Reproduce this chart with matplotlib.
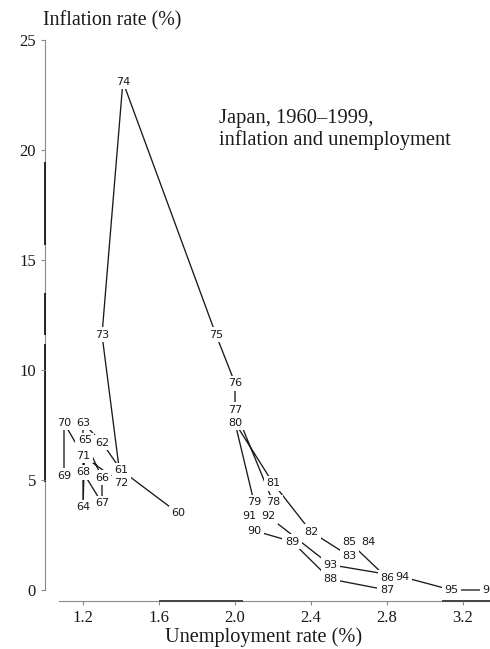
import matplotlib
matplotlib.use("Agg")
import matplotlib.pyplot as plt

# Japan, 1960-1999: unemployment rate (%) and inflation rate (%) by year
years = ["60", "61", "62", "63", "64", "65", "66", "67", "68", "69",
         "70", "71", "72", "73", "74", "75", "76", "77", "78", "79",
         "80", "81", "82", "83", "84", "85", "86", "87", "88", "89",
         "90", "91", "92", "93", "94", "95", "96"]
unemployment = [1.70, 1.40, 1.30, 1.20, 1.20, 1.21, 1.30, 1.30, 1.20, 1.10,
                1.10, 1.20, 1.40, 1.30, 1.41, 1.90, 2.00, 2.00, 2.20, 2.10,
                2.00, 2.20, 2.40, 2.60, 2.70, 2.60, 2.80, 2.80, 2.50, 2.30,
                2.10, 2.075, 2.175, 2.50, 2.88, 3.14, 3.34]
inflation = [3.5, 5.45, 6.7, 7.6, 3.77, 6.8, 5.1, 3.95, 5.35, 5.2,
             7.6, 6.1, 4.86, 11.6, 23.1, 11.6, 9.4, 8.2, 4.0, 4.0,
             7.6, 4.86, 2.65, 1.55, 2.2, 2.2, 0.55, 0.0, 0.5, 2.2,
             2.7, 3.35, 3.35, 1.15, 0.6, 0.0, 0.0]

x_ticks = [1.2, 1.6, 2.0, 2.4, 2.8, 3.2]
x_tick_labels = ["1.2", "1.6", "2.0", "2.4", "2.8", "3.2"]
y_ticks = [0, 5, 10, 15, 20, 25]
y_tick_labels = ["0", "5", "10", "15", "20", "25"]

SERIF = "Liberation Serif"
SANS = "DejaVu Sans"
INK = "#1a1a1a"
GREY = "#8a8a8a"

W, H = 490, 649
fig = plt.figure(figsize=(W / 100, H / 100), dpi=100)
fig.patch.set_facecolor("white")
ax = fig.add_axes([45 / W, (H - 600.7) / H, (W - 45) / W, (600.7 - 30) / H])
ax.set_xlim(1.0, 3.342)
ymin, ymax = -0.486, 25.45
ax.set_ylim(ymin, ymax)
for s in ax.spines.values():
    s.set_visible(False)

# connecting line through the years
ax.plot(unemployment, inflation, color=INK, lw=0.95, zorder=2,
        solid_capstyle="butt")

# year labels, knocked out of the line
for yr, u, p in zip(years, unemployment, inflation):
    ax.text(u, p, yr, ha="center", va="center", fontsize=8,
            family=SANS, color=INK, zorder=3,
            bbox=dict(boxstyle="square,pad=0.22", fc="white", ec="none"))

# range frame: thin grey axis lines with darker stretches
ax.plot([1.0, 1.0], [0, 25], color=GREY, lw=0.8, clip_on=False, zorder=1)
for lo, hi in [(4.9, 11.2), (11.6, 13.5), (15.7, 19.45)]:
    ax.plot([1.0, 1.0], [lo, hi], color=INK, lw=1.3, clip_on=False,
            zorder=1, solid_capstyle="butt")
ax.plot([1.074, 3.342], [ymin, ymin], color=GREY, lw=0.8, clip_on=False,
        zorder=1)
for lo, hi in [(1.6, 2.04), (3.09, 3.342)]:
    ax.plot([lo, hi], [ymin, ymin], color="#444444", lw=1.4, clip_on=False,
            zorder=1, solid_capstyle="butt")

ax.set_xticks(x_ticks)
ax.set_xticklabels(x_tick_labels, family=SERIF, fontsize=12, color=INK)
ax.set_yticks(y_ticks)
ax.set_yticklabels(y_tick_labels, family=SERIF, fontsize=12, color=INK)
ax.tick_params(axis="y", length=3, width=0.8, color=GREY, pad=3.5)
ax.tick_params(axis="x", length=3, width=0.8, color=GREY, pad=4)

fig.text(43 / W, 1 - 21 / H, "Inflation rate (%)", family=SERIF,
         fontsize=14.4, color=INK, ha="left", va="center")
fig.text(264 / W, 1 - 637 / H, "Unemployment rate (%)", family=SERIF,
         fontsize=14.6, color=INK, ha="center", va="center")
fig.text(219 / W, 1 - 118 / H, "Japan, 1960\u20131999,", family=SERIF,
         fontsize=14.8, color=INK, ha="left", va="center")
fig.text(219 / W, 1 - 140 / H, "inflation and unemployment", family=SERIF,
         fontsize=14.8, color=INK, ha="left", va="center")

fig.savefig("out.png", dpi=100, facecolor="white")
